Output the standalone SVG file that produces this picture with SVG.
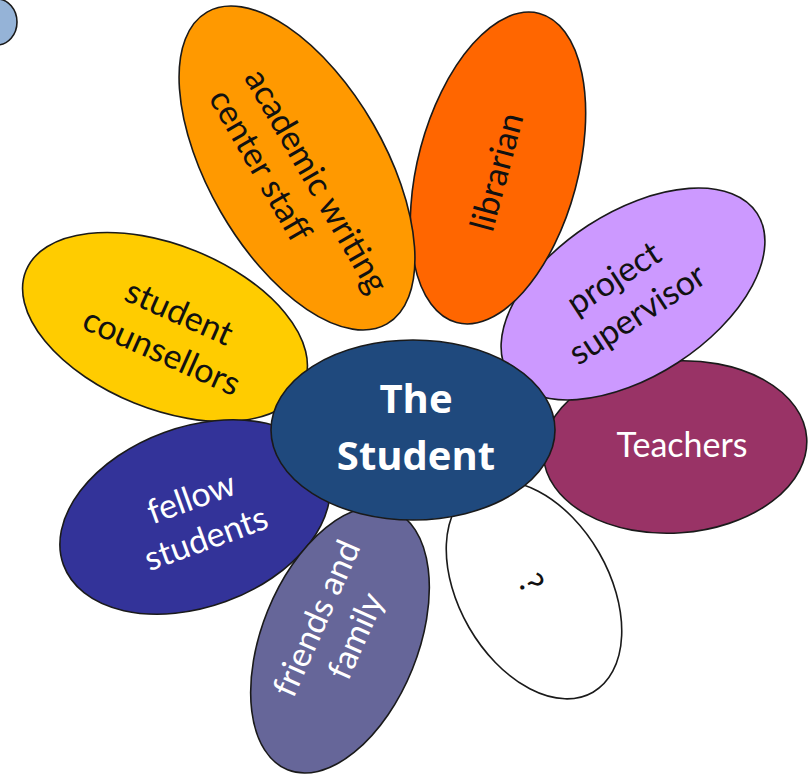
<svg xmlns="http://www.w3.org/2000/svg" width="809" height="776" viewBox="0 0 809 776">
  <style>
    .petal { stroke: #1a1a1a; stroke-width: 1.6; }
    .lbl { font-family: Lato, "Open Sans", "Liberation Sans", sans-serif; font-size: 34px; text-anchor: middle; }
    .dark { fill: #111111; }
    .light { fill: #ffffff; }
    .hub { font-family: "Open Sans", Lato, "Liberation Sans", sans-serif; font-size: 40px; font-weight: bold; fill: #ffffff; text-anchor: middle; }
  </style>
  <rect width="809" height="776" fill="#ffffff"/>

  <!-- small blue shape at the top-left corner -->
  <ellipse cx="-3" cy="22" rx="20" ry="23" fill="#95B3D7" stroke="#1a1a1a" stroke-width="1.6"/>

  <g id="petal-unknown">
    <ellipse class="petal" cx="534" cy="590" rx="118" ry="75" transform="rotate(60 534 590)" fill="#ffffff"/>
    <text class="lbl dark" transform="translate(521 589) rotate(60)">?</text>
  </g>

  <g id="petal-teachers">
    <ellipse class="petal" cx="675" cy="447" rx="132" ry="86" transform="rotate(-4 675 447)" fill="#993366"/>
    <text class="lbl light" x="682" y="457">Teachers</text>
  </g>

  <g id="petal-supervisor">
    <ellipse class="petal" cx="633" cy="294" rx="148" ry="82" transform="rotate(-33 633 294)" fill="#CC99FF"/>
    <text class="lbl dark" transform="translate(626 297) rotate(-33)"><tspan x="0" y="-11">project</tspan><tspan x="0" y="32">supervisor</tspan></text>
  </g>

  <g id="petal-librarian">
    <ellipse class="petal" cx="498" cy="168" rx="160" ry="80" transform="rotate(-75 498 168)" fill="#FF6600"/>
    <text class="lbl dark" transform="translate(508 175) rotate(-75)">librarian</text>
  </g>

  <g id="petal-writing">
    <ellipse class="petal" cx="297" cy="168" rx="180" ry="88" transform="rotate(60 297 168)" fill="#FF9900"/>
    <text class="lbl dark" transform="translate(241 79) rotate(60)" style="text-anchor:start"><tspan x="0" y="-3">academic writing</tspan><tspan x="0" y="38">center staff</tspan></text>
  </g>

  <g id="petal-counsellors">
    <ellipse class="petal" cx="165" cy="327" rx="150" ry="82" transform="rotate(22 165 327)" fill="#FFCC00"/>
    <text class="lbl dark" transform="translate(170 333) rotate(24)"><tspan x="0" y="-11">student</tspan><tspan x="0" y="32">counsellors</tspan></text>
  </g>

  <g id="petal-fellow">
    <ellipse class="petal" cx="195" cy="517" rx="140" ry="90" transform="rotate(-20 195 517)" fill="#333399"/>
    <text class="lbl light" transform="translate(200 522) rotate(-20)"><tspan x="0" y="-14">fellow</tspan><tspan x="0" y="29">students</tspan></text>
  </g>

  <g id="petal-friends">
    <ellipse class="petal" cx="340" cy="640" rx="140" ry="78" transform="rotate(-68 340 640)" fill="#666699"/>
    <text class="lbl light" transform="translate(338 628) rotate(-66)"><tspan x="0" y="-12">friends and</tspan><tspan x="0" y="31">family</tspan></text>
  </g>

  <g id="hub">
    <ellipse class="petal" cx="413" cy="430" rx="142" ry="90" fill="#1F497D"/>
    <text class="hub"><tspan x="416" y="413">The</tspan><tspan x="416" y="470">Student</tspan></text>
  </g>
</svg>
